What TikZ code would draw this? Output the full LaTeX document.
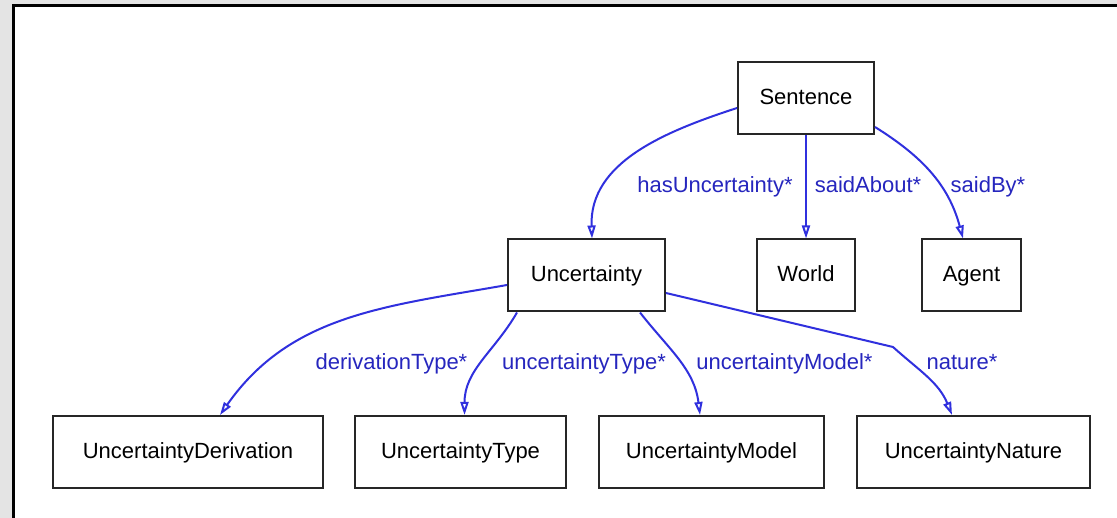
\documentclass[tikz,border=0pt]{standalone}
\usepackage{fontspec}
\setmainfont{Liberation Sans}
\usepackage{xcolor}
\usetikzlibrary{arrows.meta, positioning, calc}
\definecolor{edgeblue}{RGB}{48,48,222}
\definecolor{labelblue}{RGB}{38,38,190}
\definecolor{framegray}{RGB}{228,228,228}

\begin{document}
\begin{tikzpicture}[x=1pt, y=-1pt,
    box/.style={draw=black!85, line width=2pt, fill=white, inner sep=0pt,
        minimum height=72pt, text height=16.5pt, text depth=4pt,
        font=\fontsize{22}{26}\selectfont},
    rel/.style={draw=edgeblue, line width=2pt,
        -{Triangle[open, length=13pt, width=8pt]}},
    lbl/.style={anchor=base, inner sep=0pt, text=labelblue,
        font=\fontsize{22}{26}\selectfont}]
\useasboundingbox (0,0) rectangle (1117,518);
% Frame
\fill[framegray] (0,0) rectangle (1117,518);
\fill[white] (12,4) rectangle (1117,518);
\draw[line width=3pt] (13.5,518) -- (13.5,5.5) -- (1117,5.5);
% Top nodes
\node[box, minimum width=136pt] (sent) at (806,98.5) {Sentence};
\node[box, minimum width=157pt] (unc) at (586.5,275.5) {Uncertainty};
\node[box, minimum width=98pt] (world) at (806,275.5) {World};
\node[box, minimum width=99pt] (agent) at (971.5,275.5) {Agent};
% Bottom row
\foreach \n/\x/\w/\t in {der/188/270/UncertaintyDerivation,
    typ/460.5/211/UncertaintyType, mod/711.5/225/UncertaintyModel,
    nat/973.5/233/UncertaintyNature} {
    \node[box, minimum width=\w pt] (\n) at (\x,452) {\t};
}
\coordinate (bend) at (893,347);
% Relations
\draw[rel] ([yshift=-9.5pt]sent.west) to[out=198, in=92] ([xshift=5.5pt]unc.north);
\draw[rel] (sent.south) -- (world.north);
\draw[rel] ([yshift=-28.5pt]sent.east) to[out=-32, in=105] ([xshift=-8.5pt]agent.north);
\draw[rel] ([yshift=-9.5pt]unc.west) to[out=190, in=55] ([xshift=32pt]der.north);
\draw[rel] ([xshift=-69.5pt]unc.south) to[out=240, in=90] ([xshift=4pt]typ.north);
\draw[rel] ([xshift=53.5pt]unc.south) to[out=-52, in=97] ([xshift=-11.5pt]mod.north);
\draw[rel] ([yshift=-17.5pt]unc.east) -- (bend) to[out=-42, in=112] ([xshift=-21.5pt]nat.north);
% Labels
\node[lbl] (l1) at (715,193) {hasUncertainty*};
\node[lbl] (l2) at (868,193) {saidAbout*};
\node[lbl] (l3) at (988,193) {saidBy*};
\node[lbl] (l4) at (391.5,370) {derivationType*};
\node[lbl] (l5) at (584,370) {uncertaintyType*};
\node[lbl] (l6) at (784.5,370) {uncertaintyModel*};
\node[lbl] (l7) at (962,370) {nature*};
\end{tikzpicture}
\end{document}
